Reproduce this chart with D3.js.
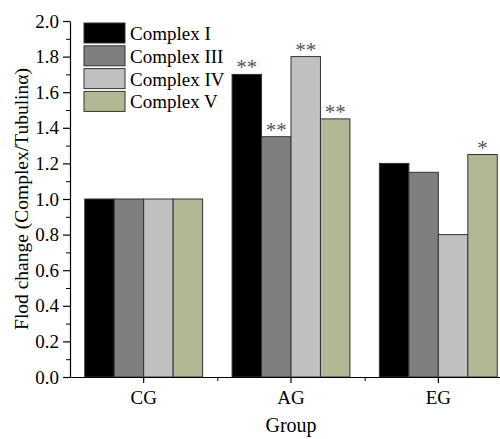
<!DOCTYPE html>
<html>
<head>
<meta charset="utf-8">
<script src="https://cdn.jsdelivr.net/npm/d3@7"></script>
<style>
  body { margin: 0; background: #fff; }
  svg { display: block; }
</style>
</head>
<body>
<div id="bar-chart"></div>
<script>
// Data
const groups = ["CG", "AG", "EG"];
const series = ["Complex I", "Complex III", "Complex IV", "Complex V"];
const complexI = [1.0, 1.7, 1.2];
const complexIII = [1.0, 1.35, 1.15];
const complexIV = [1.0, 1.8, 0.8];
const complexV = [1.0, 1.45, 1.25];
const stars = [["", "", "", ""], ["**", "**", "**", "**"], ["", "", "", "*"]];
const yTicks = [0, 0.2, 0.4, 0.6, 0.8, 1.0, 1.2, 1.4, 1.6, 1.8, 2.0];

const values = [complexI, complexIII, complexIV, complexV];
const colors = ["#000000", "#7f7f7f", "#c0c0c0", "#b3b894"];
const serif = "'Liberation Serif', 'Times New Roman', serif";

const margin = {top: 21, right: 0, bottom: 62, left: 70},
      width = 442,
      height = 356;

const svg = d3.select("#bar-chart")
    .append("svg")
    .attr("width", 500)
    .attr("height", 439)
    .style("font-family", serif);

const g = svg.append("g")
    .attr("transform", `translate(${margin.left},${margin.top})`);

// Scales
const x0 = d3.scaleBand()
    .domain(groups)
    .range([0, width])
    .paddingInner(0.2)
    .paddingOuter(0.1);

const x1 = d3.scaleBand()
    .domain(series)
    .range([0, x0.bandwidth()]);

const y = d3.scaleLinear()
    .domain([0, 2])
    .range([height, 0]);

// Bars
const rows = groups.map((grp, i) => series.map((s, j) => ({grp, s, j, v: values[j][i], star: stars[i][j]})));

const grpSel = g.selectAll(".grp")
    .data(rows)
    .join("g")
    .attr("class", "grp")
    .attr("transform", (d, i) => `translate(${x0(groups[i])},0)`);

grpSel.selectAll("rect")
    .data(d => d)
    .join("rect")
    .attr("x", d => x1(d.s))
    .attr("y", d => y(d.v))
    .attr("width", x1.bandwidth())
    .attr("height", d => y(0) - y(d.v))
    .attr("fill", d => colors[d.j])
    .attr("stroke", "#333")
    .attr("stroke-width", 1);

// Significance marks
grpSel.selectAll("text.star")
    .data(d => d.filter(e => e.star))
    .join("text")
    .attr("class", "star")
    .attr("x", d => x1(d.s) + x1.bandwidth() / 2)
    .attr("y", d => y(d.v))
    .attr("text-anchor", "middle")
    .style("font-size", "21px")
    .style("fill", "#555")
    .text(d => d.star);

// Y axis with minor ticks
g.append("g")
    .call(d3.axisLeft(y).tickValues(d3.range(0.1, 2, 0.2)).tickSize(4).tickFormat(""))
    .call(a => a.select(".domain").remove())
    .call(a => a.selectAll("line").attr("stroke", "#000"));

g.append("g")
    .call(d3.axisLeft(y).tickValues(yTicks).tickSize(7).tickSizeOuter(0).tickFormat(d3.format(".1f")))
    .call(a => a.selectAll("text").style("font-size", "19px").style("font-family", serif).attr("fill", "#000").attr("x", -11))
    .call(a => a.selectAll("line, .domain").attr("stroke", "#000").attr("stroke-width", 1.2));

// X axis
const xLin = d3.scaleLinear().domain([0.5, 3.5]).range([0, width]);
g.append("g")
    .attr("transform", `translate(0,${height})`)
    .call(d3.axisBottom(xLin).tickValues([1.5, 2.5]).tickSize(4).tickFormat(""))
    .call(a => a.select(".domain").remove())
    .call(a => a.selectAll("line").attr("stroke", "#000"));

g.append("g")
    .attr("transform", `translate(0,${height})`)
    .call(d3.axisBottom(x0).tickSize(6).tickSizeOuter(0))
    .call(a => a.selectAll("text").style("font-size", "19px").style("font-family", serif).attr("fill", "#000").attr("dy", null).attr("y", 27))
    .call(a => a.selectAll("line, .domain").attr("stroke", "#000").attr("stroke-width", 1.2));

// Axis titles
svg.append("text")
    .attr("transform", "rotate(-90)")
    .attr("x", -199)
    .attr("y", 28)
    .attr("text-anchor", "middle")
    .style("font-size", "19.5px")
    .text("Flod change (Complex/Tubulinα)");

svg.append("text")
    .attr("x", margin.left + width / 2)
    .attr("y", 432)
    .attr("text-anchor", "middle")
    .style("font-size", "20px")
    .text("Group");

// Legend
const legend = g.append("g")
    .attr("transform", "translate(14,2)");

const item = legend.selectAll("g")
    .data(series)
    .join("g")
    .attr("transform", (d, i) => `translate(0,${i * 22.8})`);

item.append("rect")
    .attr("width", 41)
    .attr("height", 20)
    .attr("fill", (d, i) => colors[i])
    .attr("stroke", "#333");

item.append("text")
    .attr("x", 46)
    .attr("y", 17)
    .style("font-size", "19px")
    .text(d => d);
</script>
</body>
</html>
